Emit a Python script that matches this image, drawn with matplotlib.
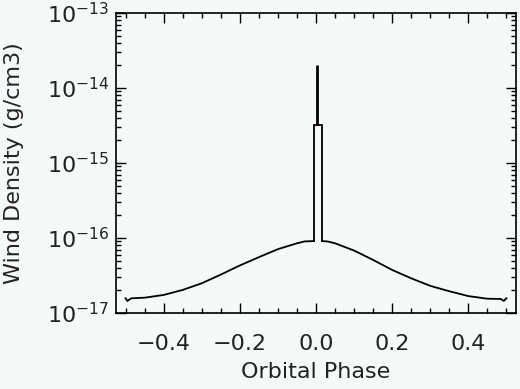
import matplotlib
matplotlib.use("Agg")
import matplotlib.pyplot as plt
from matplotlib.ticker import LogLocator, MultipleLocator, FixedLocator

# Smooth wind-density curve
phase_left = [-0.500, -0.495, -0.485, -0.45, -0.40, -0.35, -0.30, -0.25, -0.20,
              -0.15, -0.10, -0.05, -0.030, -0.006]
dens_left = [1.57e-17, 1.45e-17, 1.57e-17, 1.60e-17, 1.74e-17, 2.03e-17, 2.49e-17,
             3.25e-17, 4.30e-17, 5.55e-17, 7.10e-17, 8.50e-17, 9.0e-17, 9.1e-17]

# Rectangular spike near phase 0
spike_phase = [-0.006, -0.006, 0.016, 0.016]
spike_dens = [9.1e-17, 3.18e-15, 3.18e-15, 9.1e-17]

phase_right = [0.016, 0.030, 0.05, 0.10, 0.15, 0.20, 0.25, 0.30, 0.35, 0.40,
               0.45, 0.485, 0.493, 0.500]
dens_right = [9.1e-17, 9.0e-17, 8.5e-17, 6.8e-17, 5.1e-17, 3.75e-17, 2.9e-17,
              2.3e-17, 1.95e-17, 1.68e-17, 1.55e-17, 1.54e-17, 1.45e-17, 1.57e-17]

# Thin narrow peak
peak_phase = 0.0025
peak_base = 3.18e-15
peak_top = 2.0e-14

x_ticks = [-0.4, -0.2, 0.0, 0.2, 0.4]
x_ticklabels = ["\u22120.4", "\u22120.2", "0.0", "0.2", "0.4"]
y_ticks = [1e-17, 1e-16, 1e-15, 1e-14, 1e-13]
y_ticklabels = [r"$10^{-17}$", r"$10^{-16}$", r"$10^{-15}$", r"$10^{-14}$", r"$10^{-13}$"]

bg = "#f6faf6"
txt = "#222222"
plt.rcParams["font.family"] = ["DejaVu Sans"]
plt.rcParams["mathtext.fontset"] = "dejavusans"

fig = plt.figure(figsize=(5.2, 3.89), dpi=100, facecolor=bg)
ax = fig.add_axes([116 / 520, 1 - 313 / 389, 400 / 520, 300 / 389], facecolor=bg)

lw = 1.3
ax.plot(phase_left, dens_left, color="black", lw=lw, solid_joinstyle="miter")
ax.plot(spike_phase, spike_dens, color="black", lw=lw, solid_joinstyle="miter")
ax.plot(phase_right, dens_right, color="black", lw=lw, solid_joinstyle="miter")
ax.vlines([peak_phase], [peak_base], [peak_top], color="black", lw=2.0)

ax.set_yscale("log")
ax.set_xlim(-0.525, 0.525)
ax.set_ylim(1e-17, 1e-13)

ax.xaxis.set_major_locator(FixedLocator(x_ticks))
ax.set_xticklabels(x_ticklabels)
ax.xaxis.set_minor_locator(MultipleLocator(0.05))
ax.yaxis.set_major_locator(FixedLocator(y_ticks))
ax.set_yticklabels(y_ticklabels)
ax.yaxis.set_minor_locator(LogLocator(base=10, subs=range(2, 10), numticks=20))
ax.yaxis.set_minor_formatter(plt.NullFormatter())

ax.tick_params(which="both", direction="in", top=True, right=True, width=1.0,
               color="black", labelcolor=txt)
ax.tick_params(which="major", length=7)
ax.tick_params(which="minor", length=3.5)
ax.tick_params(axis="x", which="major", labelsize=16, pad=15)
ax.tick_params(axis="y", which="major", labelsize=16, pad=5)

for s in ax.spines.values():
    s.set_linewidth(1.2)

ax.set_xlabel("Orbital Phase", fontsize=16, labelpad=6, color=txt)
ax.set_ylabel("Wind Density (g/cm3)", fontsize=16, labelpad=16, color=txt)

fig.savefig("out.png", dpi=100, facecolor=bg)
